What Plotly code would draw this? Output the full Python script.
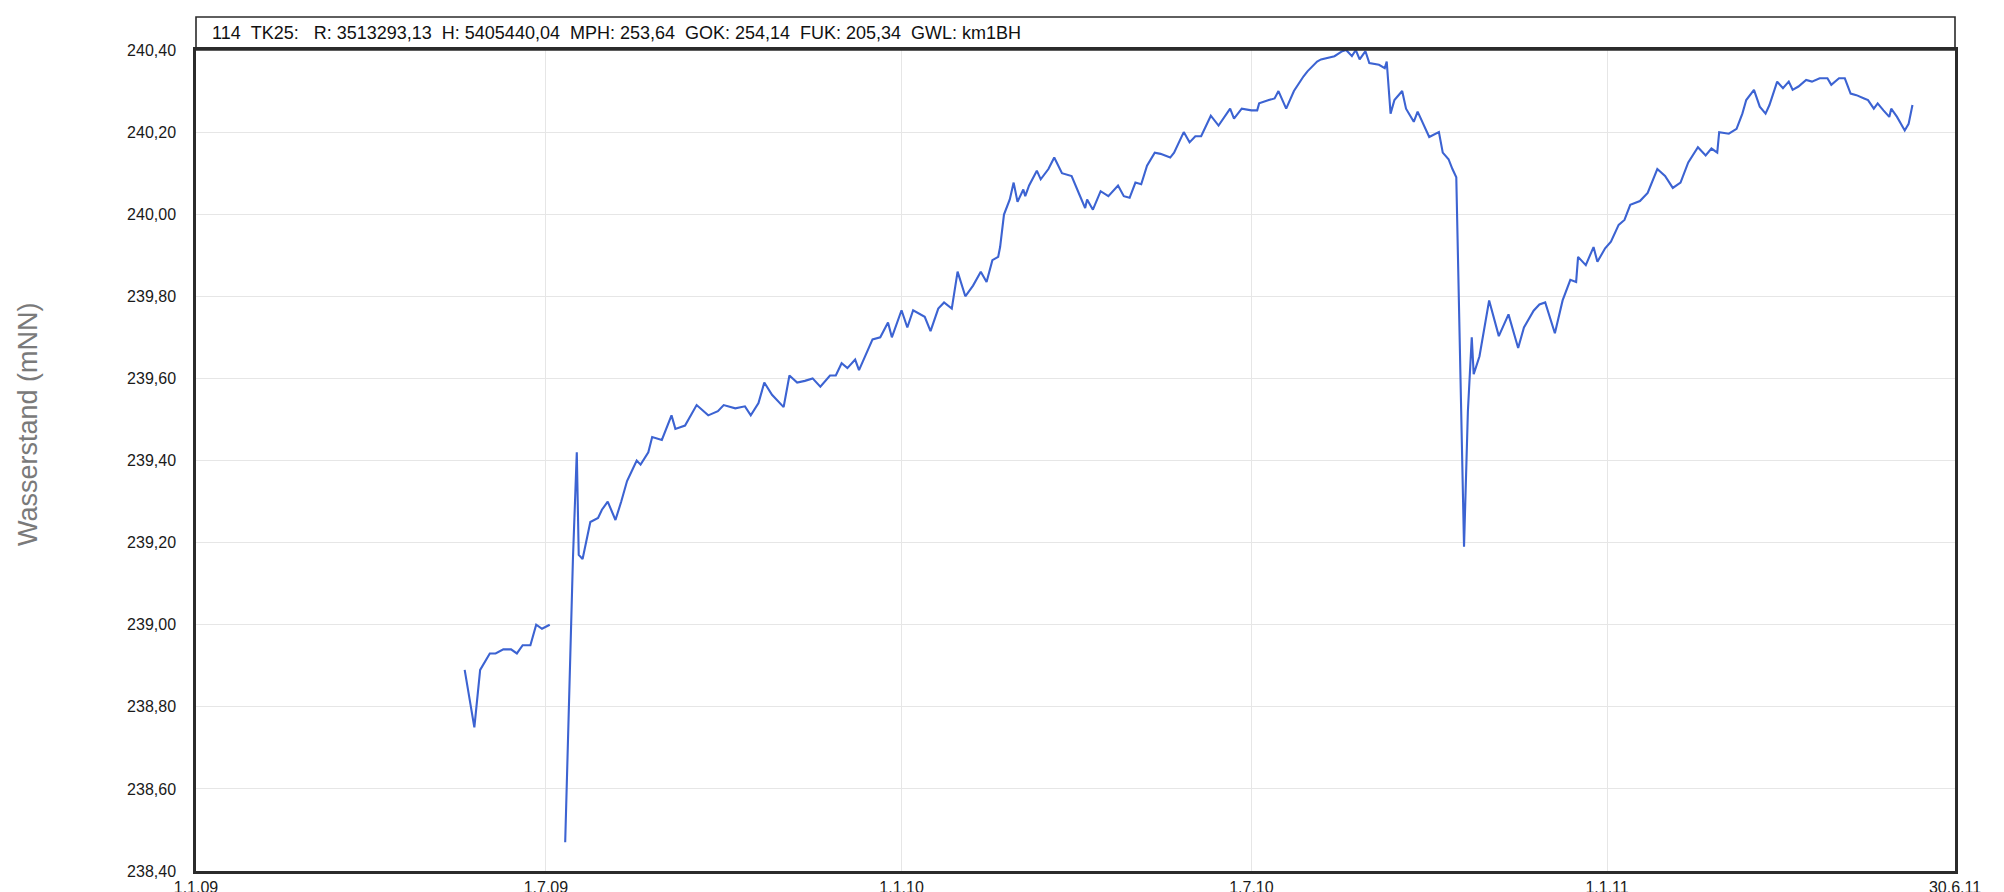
import plotly.graph_objects as go

# first short run of readings (May/June 2009)
dates_a = [
    "2009-05-20", "2009-05-25", "2009-05-28", "2009-06-02", "2009-06-05", "2009-06-09",
    "2009-06-13", "2009-06-16", "2009-06-19", "2009-06-23", "2009-06-26", "2009-06-29",
    "2009-07-03",
]
level_a = [
    238.89, 238.75, 238.89, 238.93, 238.93, 238.94,
    238.94, 238.93, 238.95, 238.95, 239.00, 238.99,
    239.00,
]

# main series from July 2009 on
dates_b = [
    "2009-07-11", "2009-07-15", "2009-07-17", "2009-07-18", "2009-07-20", "2009-07-24",
    "2009-07-28", "2009-07-30", "2009-08-02", "2009-08-06", "2009-08-09", "2009-08-12",
    "2009-08-15", "2009-08-17", "2009-08-19", "2009-08-23", "2009-08-25", "2009-08-30",
    "2009-09-04", "2009-09-06", "2009-09-11", "2009-09-17", "2009-09-23", "2009-09-28",
    "2009-10-01", "2009-10-07", "2009-10-12", "2009-10-15", "2009-10-19", "2009-10-22",
    "2009-10-26", "2009-11-01", "2009-11-04", "2009-11-08", "2009-11-12", "2009-11-16",
    "2009-11-20", "2009-11-25", "2009-11-28", "2009-12-01", "2009-12-04", "2009-12-08",
    "2009-12-10", "2009-12-17", "2009-12-21", "2009-12-25", "2009-12-27",
    "2010-01-01", "2010-01-04", "2010-01-07", "2010-01-13", "2010-01-16", "2010-01-20",
    "2010-01-23", "2010-01-27", "2010-01-30", "2010-02-03", "2010-02-07", "2010-02-11",
    "2010-02-14", "2010-02-17", "2010-02-20", "2010-02-21", "2010-02-23", "2010-02-26",
    "2010-02-28", "2010-03-02", "2010-03-05", "2010-03-06", "2010-03-08", "2010-03-12",
    "2010-03-14", "2010-03-18", "2010-03-21", "2010-03-25", "2010-03-30", "2010-04-03",
    "2010-04-06", "2010-04-07", "2010-04-10", "2010-04-14", "2010-04-18", "2010-04-23",
    "2010-04-26", "2010-04-29", "2010-05-02", "2010-05-05", "2010-05-08", "2010-05-12",
    "2010-05-15", "2010-05-20", "2010-05-22", "2010-05-27", "2010-05-30", "2010-06-02",
    "2010-06-05", "2010-06-10", "2010-06-14", "2010-06-20", "2010-06-22", "2010-06-26",
    "2010-07-01", "2010-07-04", "2010-07-05", "2010-07-10", "2010-07-13", "2010-07-15",
    "2010-07-19", "2010-07-23", "2010-07-25", "2010-07-28", "2010-07-30", "2010-08-04",
    "2010-08-06", "2010-08-13", "2010-08-17", "2010-08-19", "2010-08-22", "2010-08-24",
    "2010-08-26", "2010-08-29", "2010-08-31", "2010-09-05", "2010-09-08", "2010-09-09",
    "2010-09-11", "2010-09-13", "2010-09-17", "2010-09-19", "2010-09-23", "2010-09-25",
    "2010-10-01", "2010-10-06", "2010-10-08", "2010-10-11", "2010-10-13", "2010-10-15",
    "2010-10-19", "2010-10-21", "2010-10-23", "2010-10-24", "2010-10-27", "2010-11-01",
    "2010-11-06", "2010-11-11", "2010-11-16", "2010-11-19", "2010-11-24", "2010-11-27",
    "2010-11-30", "2010-12-05", "2010-12-09", "2010-12-13", "2010-12-16", "2010-12-17",
    "2010-12-21", "2010-12-25", "2010-12-27", "2010-12-31",
    "2011-01-03", "2011-01-07", "2011-01-10", "2011-01-13", "2011-01-18", "2011-01-22",
    "2011-01-27", "2011-01-31", "2011-02-04", "2011-02-08", "2011-02-12", "2011-02-17",
    "2011-02-21", "2011-02-24", "2011-02-27", "2011-02-28", "2011-03-05", "2011-03-09",
    "2011-03-12", "2011-03-14", "2011-03-18", "2011-03-21", "2011-03-24", "2011-03-26",
    "2011-03-30", "2011-04-02", "2011-04-05", "2011-04-07", "2011-04-10", "2011-04-14",
    "2011-04-17", "2011-04-21", "2011-04-25", "2011-04-27", "2011-05-01", "2011-05-04",
    "2011-05-07", "2011-05-10", "2011-05-14", "2011-05-16", "2011-05-19", "2011-05-21",
    "2011-05-24", "2011-05-27", "2011-05-28", "2011-05-31", "2011-06-04", "2011-06-06",
    "2011-06-08",
]
level_b = [
    238.47, 239.16, 239.42, 239.17, 239.16, 239.25,
    239.26, 239.28, 239.30, 239.255, 239.30, 239.35,
    239.38, 239.40, 239.39, 239.42, 239.457, 239.45,
    239.51, 239.477, 239.485, 239.535, 239.51, 239.52,
    239.535, 239.527, 239.532, 239.51, 239.54, 239.59,
    239.56, 239.53, 239.607, 239.59, 239.594, 239.60,
    239.58, 239.607, 239.607, 239.637, 239.625, 239.646,
    239.62, 239.695, 239.70, 239.736, 239.70,
    239.766, 239.724, 239.766, 239.75, 239.715, 239.77,
    239.785, 239.77, 239.86, 239.80, 239.826, 239.86,
    239.835, 239.888, 239.896, 239.92, 239.999, 240.036,
    240.077, 240.03, 240.06, 240.044, 240.07, 240.106,
    240.085, 240.11, 240.138, 240.10, 240.093, 240.048,
    240.015, 240.036, 240.011, 240.056, 240.044, 240.07,
    240.044, 240.04, 240.077, 240.073, 240.118, 240.15,
    240.147, 240.138, 240.15, 240.20, 240.175, 240.19,
    240.19, 240.24, 240.216, 240.257, 240.233, 240.257,
    240.253, 240.253, 240.27, 240.278, 240.282, 240.30,
    240.257, 240.30, 240.315, 240.336, 240.348, 240.372,
    240.377, 240.385, 240.397, 240.40, 240.385, 240.40,
    240.377, 240.397, 240.368, 240.364, 240.356, 240.372,
    240.245, 240.278, 240.30, 240.257, 240.225, 240.25,
    240.188, 240.20, 240.15, 240.134, 240.11, 240.09,
    239.19, 239.52, 239.70, 239.61, 239.654, 239.79,
    239.703, 239.756, 239.674, 239.724, 239.765, 239.78,
    239.785, 239.71, 239.79, 239.84, 239.835, 239.896,
    239.876, 239.92, 239.884, 239.917,
    239.933, 239.974, 239.986, 240.023, 240.032, 240.052,
    240.11, 240.093, 240.064, 240.077, 240.126, 240.163,
    240.143, 240.16, 240.15, 240.20, 240.196, 240.208,
    240.245, 240.278, 240.303, 240.262, 240.245, 240.266,
    240.323, 240.307, 240.323, 240.303, 240.311, 240.327,
    240.323, 240.331, 240.331, 240.315, 240.331, 240.331,
    240.294, 240.29, 240.282, 240.278, 240.257, 240.27,
    240.253, 240.237, 240.257, 240.237, 240.204, 240.22,
    240.266,
]

x_tickvals = ["2009-01-01", "2009-07-01", "2010-01-01", "2010-07-01", "2011-01-01", "2011-06-30"]
x_ticktext = ["1.1.09", "1.7.09", "1.1.10", "1.7.10", "1.1.11", "30.6.11"]
y_tickvals = [238.4, 238.6, 238.8, 239.0, 239.2, 239.4, 239.6, 239.8, 240.0, 240.2, 240.4]
y_ticktext = ["238,40", "238,60", "238,80", "239,00", "239,20", "239,40",
              "239,60", "239,80", "240,00", "240,20", "240,40"]

header = "114  TK25:   R: 3513293,13  H: 5405440,04  MPH: 253,64  GOK: 254,14  FUK: 205,34  GWL: km1BH"
y_title = "Wasserstand (mNN)"

FONT = "Liberation Sans, Arial, sans-serif"
LINE_COLOR = "#3c63d2"
FRAME = "#2b2b2b"

W, H = 2004, 892
M_L, M_R, M_T, M_B = 188, 57, 42, 29
plot_w = W - M_L - M_R
plot_h = H - M_T - M_B
box_h = 33

fig = go.Figure()

for xs, ys in [(dates_a, level_a), (dates_b, level_b)]:
    fig.add_trace(
        go.Scatter(
            x=xs,
            y=ys,
            mode="lines",
            line=dict(color=LINE_COLOR, width=2.1),
            showlegend=False,
            hovertemplate="%{x|%d.%m.%y}<br>%{y:.2f} mNN<extra></extra>",
        )
    )

fig.update_xaxes(
    type="date",
    range=["2009-01-01", "2011-06-30"],
    tickmode="array",
    tickvals=x_tickvals,
    ticktext=x_ticktext,
    tickfont=dict(family=FONT, size=16, color="#1a1a1a"),
    ticklabelstandoff=0,
    showgrid=True,
    gridcolor="#e6e6e6",
    gridwidth=1,
    zeroline=False,
    showline=True,
    linecolor=FRAME,
    linewidth=2.5,
    mirror=True,
)

fig.update_yaxes(
    range=[238.4, 240.4],
    tickmode="array",
    tickvals=y_tickvals,
    ticktext=y_ticktext,
    tickfont=dict(family=FONT, size=16, color="#1a1a1a"),
    ticklabelstandoff=14,
    showgrid=True,
    gridcolor="#e6e6e6",
    gridwidth=1,
    zeroline=False,
    showline=True,
    linecolor=FRAME,
    linewidth=2.5,
    mirror=True,
)

# header box sitting on top of the plot frame
fig.add_shape(
    type="rect",
    xref="paper",
    yref="paper",
    x0=0,
    x1=1,
    y0=1,
    y1=1 + box_h / plot_h,
    line=dict(color=FRAME, width=1.6),
    fillcolor="rgba(0,0,0,0)",
    layer="above",
)

fig.add_annotation(
    text=header.replace(" ", "\u00a0"),
    xref="paper",
    yref="paper",
    x=0,
    y=1 + box_h / plot_h / 2,
    xanchor="left",
    yanchor="middle",
    xshift=14,
    showarrow=False,
    font=dict(family=FONT, size=18, color="#111111"),
)

fig.add_annotation(
    text=y_title,
    xref="paper",
    yref="paper",
    x=(20 - M_L) / plot_w,
    y=1 - (416 - M_T) / plot_h,
    xanchor="center",
    yanchor="middle",
    textangle=-90,
    showarrow=False,
    font=dict(family=FONT, size=27, color="#7a7a7a"),
)

fig.update_layout(
    width=W,
    height=H,
    margin=dict(l=M_L, r=M_R, t=M_T, b=M_B, pad=0, autoexpand=False),
    paper_bgcolor="white",
    plot_bgcolor="white",
    showlegend=False,
)

fig.write_html("out.html")
